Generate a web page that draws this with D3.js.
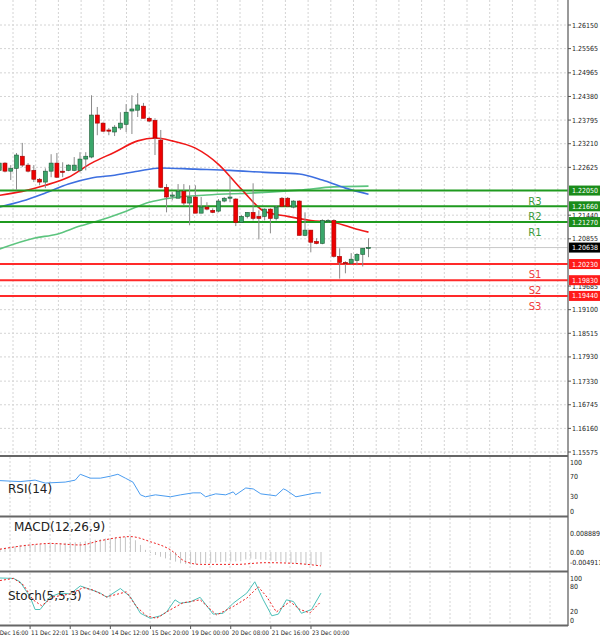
<!DOCTYPE html>
<html><head><meta charset="utf-8">
<script src="https://cdn.jsdelivr.net/npm/d3@7"></script>
<style>body{margin:0;background:#fff}svg{display:block}text{font-family:"DejaVu Sans",sans-serif}.sm{font-family:"Liberation Sans Narrow","DejaVu Sans Condensed",sans-serif}</style>
</head><body>
<script>
// candles: open, high, low, close
var opens  = [1.2255,1.2273,1.2253,1.2260,1.2290,1.2268,1.2255,1.2233,1.2226,1.2253,1.2273,1.2253,1.2255,1.2255,1.2255,1.2283,1.2288,1.2392,1.2372,1.2355,1.2350,1.2360,1.2369,1.2402,1.2404,1.2414,1.2384,1.2379,1.2330,1.2213,1.2191,1.2186,1.2203,1.2174,1.2189,1.2149,1.2164,1.2156,1.2154,1.2179,1.2186,1.2184,1.2126,1.2141,1.2151,1.2141,1.2141,1.2159,1.2136,1.2186,1.2186,1.2164,1.2179,1.2094,1.2107,1.2079,1.2074,1.2129,1.2131,1.2042,1.2027,1.2025,1.2032,1.2047,1.2062];
var highs  = [1.2281,1.2275,1.2268,1.2298,1.2323,1.2273,1.2268,1.2236,1.2260,1.2295,1.2298,1.2275,1.2270,1.2288,1.2300,1.2300,1.2441,1.2412,1.2374,1.2360,1.2367,1.2399,1.2419,1.2441,1.2446,1.2422,1.2387,1.2384,1.2355,1.2221,1.2201,1.2221,1.2221,1.2218,1.2218,1.2189,1.2176,1.2161,1.2184,1.2189,1.2241,1.2186,1.2144,1.2151,1.2223,1.2156,1.2161,1.2161,1.2169,1.2189,1.2189,1.2181,1.2181,1.2151,1.2107,1.2087,1.2134,1.2134,1.2134,1.2062,1.2030,1.2050,1.2050,1.2062,1.2087];
var lows   = [1.2243,1.2250,1.2231,1.2206,1.2263,1.2250,1.2226,1.2218,1.2211,1.2238,1.2236,1.2238,1.2253,1.2253,1.2250,1.2255,1.2285,1.2342,1.2350,1.2342,1.2340,1.2355,1.2350,1.2345,1.2387,1.2384,1.2374,1.2293,1.2211,1.2151,1.2181,1.2186,1.2169,1.2119,1.2149,1.2149,1.2156,1.2149,1.2151,1.2176,1.2176,1.2117,1.2126,1.2136,1.2131,1.2084,1.2131,1.2099,1.2131,1.2164,1.2164,1.2161,1.2094,1.2092,1.2052,1.2072,1.2072,1.2126,1.2039,1.1987,1.2000,1.2022,1.2020,1.2017,1.2040];
var closes = [1.2273,1.2253,1.2260,1.2293,1.2268,1.2253,1.2233,1.2226,1.2253,1.2273,1.2238,1.2250,1.2268,1.2268,1.2283,1.2290,1.2392,1.2372,1.2352,1.2352,1.2362,1.2372,1.2399,1.2407,1.2417,1.2384,1.2377,1.2335,1.2213,1.2189,1.2194,1.2203,1.2174,1.2189,1.2149,1.2164,1.2159,1.2151,1.2179,1.2186,1.2189,1.2126,1.2141,1.2151,1.2136,1.2136,1.2159,1.2136,1.2164,1.2166,1.2166,1.2179,1.2094,1.2107,1.2077,1.2074,1.2131,1.2131,1.2042,1.2027,1.2025,1.2035,1.2047,1.2062,1.2064];

// moving averages [bar, price]
var maRed   = [[0,1.2193],[4,1.2203],[8,1.2218],[12,1.2238],[16,1.2273],[20,1.2300],[24,1.2328],[27,1.2335],[30,1.2328],[34,1.2310],[38,1.2270],[42,1.2208],[46,1.2153],[50,1.2141],[54,1.2131],[58,1.2126],[62,1.2109],[64,1.2102]];
var maBlue  = [[0,1.2164],[4,1.2179],[8,1.2199],[12,1.2221],[16,1.2236],[20,1.2243],[24,1.2253],[28,1.2261],[34,1.2258],[40,1.2255],[46,1.2250],[52,1.2246],[56,1.2231],[60,1.2211],[64,1.2196]];
var maGreen = [[0,1.2060],[6,1.2087],[10,1.2097],[14,1.2117],[18,1.2134],[22,1.2154],[26,1.2176],[30,1.2187],[36,1.2194],[44,1.2199],[52,1.2206],[58,1.2214],[64,1.2216]];

var resistNames = ["R3","R2","R1"], resistValues = [1.22050,1.21660,1.21270];
var supportNames = ["S1","S2","S3"], supportValues = [1.20230,1.19830,1.19440];
var lastPrice = 1.20638;
var priceTicks = ["1.26150","1.25565","1.24965","1.24380","1.23795","1.23210","1.22625","1.21440","1.20855","1.19685","1.19100","1.18515","1.17930","1.17330","1.16745","1.16160","1.15575"];

// indicators [bar, value]
var rsi = [[0,62],[4,60],[7,63],[9,57],[13,59],[15,63],[16,75],[18,67],[20,67],[22,71],[23.5,75],[25,67],[26.5,59],[28,33],[29,29],[31,33],[34,29],[36,33],[38.5,37],[40,37],[41,29],[43,35],[45,33],[46.5,39],[47,33],[49,47],[50.5,45],[52,35],[55,31],[56.5,45],[57,43],[59,29],[61,33],[63,37],[64,37]];
var macdHist = [0.0017,0.0020,0.0023,0.0027,0.0033,0.0034,0.0035,0.0036,0.0037,0.0038,0.0040,0.0041,0.0042,0.0043,0.0044,0.0045,0.0047,0.0050,0.0053,0.0057,0.0060,0.0063,0.0065,0.0067,0.0069,0.0071,0.0072,0.0055,0.0033,0.0010,-0.0005,-0.0014,-0.0022,-0.0030,-0.0038,-0.0045,-0.0053,-0.0056,-0.0058,-0.0057,-0.0055,-0.0053,-0.0051,-0.0049,-0.0047,-0.0045,-0.0045,-0.0044,-0.0043,-0.0035,-0.0030,-0.0033,-0.0036,-0.0037,-0.0040,-0.0043,-0.0045,-0.0048,-0.0052,-0.0055,-0.0058,-0.0060,-0.0061,-0.0061,-0.0062];
var macdSignal = [[0,0.0013],[6,0.0033],[10,0.004],[16,0.0033],[20,0.0053],[26,0.0072],[30,0.0048],[34,0.001],[37,-0.0045],[40,-0.0058],[47,-0.0058],[53,-0.005],[58.5,-0.0053],[64,-0.0065]];
var stochK = [[0,100],[2.7,99],[4,91],[6,55],[7,25],[8,25],[10,55],[12,64],[14,62],[16,81],[18,73],[20,64],[21.3,54],[24,75],[26,55],[28,16],[30,4],[32,10],[33.2,19],[34.9,48],[35.9,40],[37.9,43],[39.9,54],[42.5,14],[44.5,16],[46.5,40],[49.2,64],[50.8,91],[52.5,48],[54.2,10],[55.5,14],[57.1,48],[58.5,44],[60.1,16],[62.1,25],[64,64]];
var stochD = [[0,94],[2.7,99],[4.7,83],[6.6,48],[8.3,34],[10.6,55],[14,62],[16.6,77],[18.6,71],[21.3,55],[25.2,67],[27.2,32],[29.2,10],[31.2,4],[33.9,24],[36.5,41],[39.9,48],[43.2,12],[46.5,32],[49.2,52],[51.5,79],[53.2,55],[55.1,19],[57.8,44],[59.8,25],[61.8,17],[64,44]];
var timeLabels = ["10 Dec 16:00","11 Dec 22:01","13 Dec 04:00","14 Dec 12:00","15 Dec 20:00","19 Dec 00:00","20 Dec 08:00","21 Dec 16:00","23 Dec 00:00"];

var W = 600, H = 641, plotR = 568;
var svg = d3.select("body").append("svg").attr("width", W).attr("height", H);

var x = d3.scaleLinear().domain([0, 64]).range([-0.8, 368.5]);
var y = d3.scaleLinear().domain([1.15575, 1.26150]).range([452, 25]);
var xs = d3.scaleLinear().domain([0, 64]).range([0, 321]);

var grid = svg.append("g").attr("stroke", "#d4d4d4").attr("stroke-dasharray", "2,2");
// main panel grid
d3.range(13, plotR, 22.7).forEach(function(gx){
  grid.append("line").attr("x1", gx).attr("x2", gx).attr("y1", 0).attr("y2", 455);
});
priceTicks.forEach(function(t){
  grid.append("line").attr("x1", 0).attr("x2", plotR).attr("y1", y(+t)).attr("y2", y(+t));
});
// sub panel grid
[[457,515],[518,570],[573,624]].forEach(function(p){
  d3.range(10, plotR, 20).forEach(function(gx){
    grid.append("line").attr("x1", gx).attr("x2", gx).attr("y1", p[0]).attr("y2", p[1]);
  });
});

// current price line
svg.append("line").attr("x1", 0).attr("x2", plotR).attr("y1", y(lastPrice)).attr("y2", y(lastPrice))
  .attr("stroke", "#c8c8c8");

// moving averages
var maLine = d3.line().x(function(d){return x(d[0])}).y(function(d){return y(d[1])}).curve(d3.curveMonotoneX);
[[maGreen,"#5cc47e"],[maBlue,"#3d6fe0"],[maRed,"#f01818"]].forEach(function(m){
  svg.append("path").attr("d", maLine(m[0])).attr("fill", "none").attr("stroke", m[1]).attr("stroke-width", 1.6);
});

// support / resistance
resistValues.forEach(function(v, i){
  svg.append("line").attr("x1", 0).attr("x2", plotR).attr("y1", y(v)).attr("y2", y(v)).attr("stroke", "#1f9a1f").attr("stroke-width", 2);
  svg.append("text").attr("x", 535).attr("y", y(v) + 14).attr("text-anchor", "middle").attr("font-size", 10)
    .attr("fill", "#3a9a3a").text(resistNames[i]);
});
supportValues.forEach(function(v, i){
  svg.append("line").attr("x1", 0).attr("x2", plotR).attr("y1", y(v)).attr("y2", y(v)).attr("stroke", "#ff2a2a").attr("stroke-width", 2);
  svg.append("text").attr("x", 535).attr("y", y(v) + 14).attr("text-anchor", "middle").attr("font-size", 10)
    .attr("fill", "#f03a3a").text(supportNames[i]);
});

// candles
var cg = svg.append("g");
closes.forEach(function(c, i){
  var o = opens[i], cx = x(i), up = c >= o;
  cg.append("line").attr("x1", cx).attr("x2", cx).attr("y1", y(highs[i])).attr("y2", y(lows[i]))
    .attr("stroke", "#8a8a8a").attr("stroke-width", 1);
  var top = y(Math.max(o, c)), bot = y(Math.min(o, c));
  cg.append("rect").attr("x", cx - 2).attr("y", top).attr("width", 4).attr("height", Math.max(1, bot - top))
    .attr("fill", up ? "#3aa66a" : "#ee0000").attr("stroke", up ? "#1d5a36" : "#a00000").attr("stroke-width", 0.6);
});

// panel frames
svg.append("line").attr("x1", plotR).attr("x2", plotR).attr("y1", 0).attr("y2", 626).attr("stroke", "#777").attr("stroke-width", 1.5);
[456, 516.5, 571.5, 625.5].forEach(function(py){
  svg.append("line").attr("x1", 0).attr("x2", plotR).attr("y1", py).attr("y2", py).attr("stroke", "#666").attr("stroke-width", 2);
});

// price axis
var ax = svg.append("g").attr("class", "sm").attr("font-size", 7).attr("fill", "#222");
priceTicks.forEach(function(t){
  ax.append("line").attr("x1", plotR).attr("x2", plotR + 3).attr("y1", y(+t)).attr("y2", y(+t)).attr("stroke", "#555");
  ax.append("text").attr("class", "sm").attr("x", 572).attr("y", y(+t) + 2.5).text(t);
});
function tag(v, fill){
  ax.append("rect").attr("x", 569).attr("y", y(v) - 5).attr("width", 31).attr("height", 10).attr("fill", fill);
  ax.append("text").attr("class", "sm").attr("x", 572).attr("y", y(v) + 2.5).attr("fill", "#fff").text(v.toFixed(5));
}
resistValues.forEach(function(v){ tag(v, "#1a8c1a"); });
supportValues.forEach(function(v){ tag(v, "#ff1a1a"); });
tag(lastPrice, "#000");

function sideLabel(t, py){
  svg.append("text").attr("class", "sm").attr("x", 570).attr("y", py + 2.5).attr("font-size", 7).attr("fill", "#222").text(t);
}

// RSI panel
var yr = d3.scaleLinear().domain([0, 100]).range([511, 462]);
svg.append("path").attr("d", d3.line().x(function(d){return xs(d[0])}).y(function(d){return yr(d[1])})(rsi))
  .attr("fill", "none").attr("stroke", "#4a9cf0").attr("stroke-width", 1);
svg.append("text").attr("x", 8).attr("y", 493).attr("font-size", 12).attr("fill", "#222").text("RSI(14)");
[100, 70, 30, 0].forEach(function(v){ sideLabel(v, yr(v)); });

// MACD panel
var ym = d3.scaleLinear().domain([-0.004911, 0.008889]).range([562.5, 533]);
macdHist.forEach(function(v, i){
  svg.append("line").attr("x1", xs(i)).attr("x2", xs(i)).attr("y1", ym(0)).attr("y2", ym(v))
    .attr("stroke", "#c4c4c4").attr("stroke-width", 1);
});
svg.append("path").attr("d", d3.line().x(function(d){return xs(d[0])}).y(function(d){return ym(d[1])}).curve(d3.curveMonotoneX)(macdSignal))
  .attr("fill", "none").attr("stroke", "#ee2020").attr("stroke-width", 1).attr("stroke-dasharray", "2,2");
svg.append("text").attr("x", 14).attr("y", 531).attr("font-size", 12).attr("fill", "#222").text("MACD(12,26,9)");
[["0.008889",0.008889],["0.00",0],["-0.004911",-0.004911]].forEach(function(t){ sideLabel(t[0], ym(t[1])); });

// Stoch panel
var yst = d3.scaleLinear().domain([0, 100]).range([620, 578]);
var sl = d3.line().x(function(d){return xs(d[0])}).y(function(d){return yst(d[1])});
svg.append("path").attr("d", sl(stochK)).attr("fill", "none").attr("stroke", "#4cc0b8").attr("stroke-width", 1);
svg.append("path").attr("d", sl(stochD)).attr("fill", "none").attr("stroke", "#ee2020").attr("stroke-width", 1).attr("stroke-dasharray", "2,2");
svg.append("text").attr("x", 8).attr("y", 600).attr("font-size", 12).attr("fill", "#222").text("Stoch(5,5,3)");
[100, 80, 20, 0].forEach(function(v){ sideLabel(v, yst(v)); });

// time labels
timeLabels.forEach(function(t, k){
  var tx = xs(6 + 8 * (k - 1));
  svg.append("line").attr("x1", tx).attr("x2", tx).attr("y1", 626).attr("y2", 629).attr("stroke", "#555");
  svg.append("text").attr("class", "sm").attr("x", tx + 1).attr("y", 635).attr("font-size", 6.2).attr("fill", "#222").text(t);
});
</script>
</body></html>
